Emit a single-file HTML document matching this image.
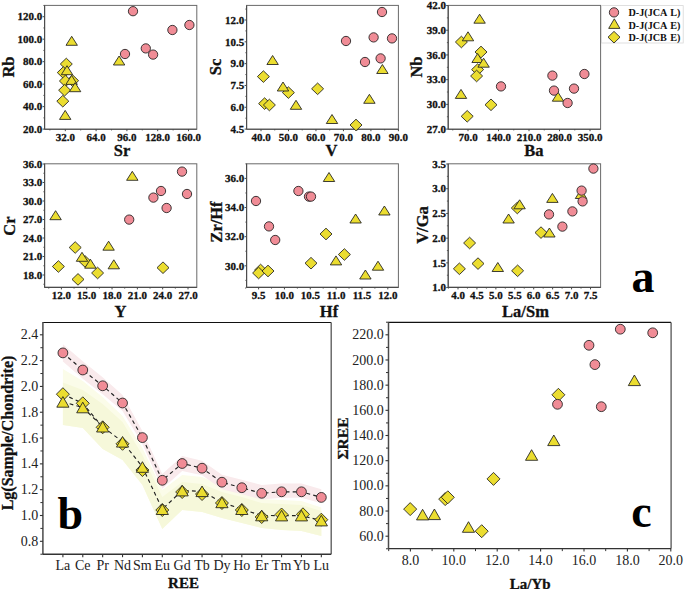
<!DOCTYPE html>
<html><head><meta charset="utf-8"><title>Geochemistry plots</title>
<style>
html,body{margin:0;padding:0;background:#fff;}
body{width:685px;height:589px;overflow:hidden;font-family:"Liberation Serif",serif;}
svg{display:block;}
</style></head>
<body>
<svg width="685" height="589" viewBox="0 0 685 589">
<rect width="685" height="589" fill="#fff"/>
<rect x="44.6" y="5.4" width="152.2" height="123.8" fill="none" stroke="#6a6a6a" stroke-width="1"/>
<line x1="44.6" y1="5.4" x2="44.6" y2="129.2" stroke="#4a4a4a" stroke-width="1.1"/>
<line x1="44.6" y1="129.2" x2="196.8" y2="129.2" stroke="#4a4a4a" stroke-width="1.1"/>
<line x1="42.6" y1="129.1" x2="44.6" y2="129.1" stroke="#4a4a4a" stroke-width="1"/>
<text x="42.3" y="132.8" text-anchor="end" font-size="11" font-family="Liberation Serif" font-weight="bold" stroke="#111" stroke-width="0.3" fill="#111">20.0</text>
<line x1="42.6" y1="106.62" x2="44.6" y2="106.62" stroke="#4a4a4a" stroke-width="1"/>
<text x="42.3" y="110.32" text-anchor="end" font-size="11" font-family="Liberation Serif" font-weight="bold" stroke="#111" stroke-width="0.3" fill="#111">40.0</text>
<line x1="42.6" y1="84.14" x2="44.6" y2="84.14" stroke="#4a4a4a" stroke-width="1"/>
<text x="42.3" y="87.84" text-anchor="end" font-size="11" font-family="Liberation Serif" font-weight="bold" stroke="#111" stroke-width="0.3" fill="#111">60.0</text>
<line x1="42.6" y1="61.66" x2="44.6" y2="61.66" stroke="#4a4a4a" stroke-width="1"/>
<text x="42.3" y="65.36" text-anchor="end" font-size="11" font-family="Liberation Serif" font-weight="bold" stroke="#111" stroke-width="0.3" fill="#111">80.0</text>
<line x1="42.6" y1="39.18" x2="44.6" y2="39.18" stroke="#4a4a4a" stroke-width="1"/>
<text x="42.3" y="42.88" text-anchor="end" font-size="11" font-family="Liberation Serif" font-weight="bold" stroke="#111" stroke-width="0.3" fill="#111">100.0</text>
<line x1="42.6" y1="16.7" x2="44.6" y2="16.7" stroke="#4a4a4a" stroke-width="1"/>
<text x="42.3" y="20.4" text-anchor="end" font-size="11" font-family="Liberation Serif" font-weight="bold" stroke="#111" stroke-width="0.3" fill="#111">120.0</text>
<line x1="43.3" y1="117.86" x2="44.6" y2="117.86" stroke="#4a4a4a" stroke-width="0.8"/>
<line x1="43.3" y1="95.38" x2="44.6" y2="95.38" stroke="#4a4a4a" stroke-width="0.8"/>
<line x1="43.3" y1="72.9" x2="44.6" y2="72.9" stroke="#4a4a4a" stroke-width="0.8"/>
<line x1="43.3" y1="50.42" x2="44.6" y2="50.42" stroke="#4a4a4a" stroke-width="0.8"/>
<line x1="43.3" y1="27.94" x2="44.6" y2="27.94" stroke="#4a4a4a" stroke-width="0.8"/>
<line x1="43.3" y1="5.46" x2="44.6" y2="5.46" stroke="#4a4a4a" stroke-width="0.8"/>
<line x1="65.3" y1="129.2" x2="65.3" y2="131.2" stroke="#4a4a4a" stroke-width="1"/>
<text x="65.3" y="140.8" text-anchor="middle" font-size="11" font-family="Liberation Serif" font-weight="bold" stroke="#111" stroke-width="0.3" fill="#111">32.0</text>
<line x1="96.1" y1="129.2" x2="96.1" y2="131.2" stroke="#4a4a4a" stroke-width="1"/>
<text x="96.1" y="140.8" text-anchor="middle" font-size="11" font-family="Liberation Serif" font-weight="bold" stroke="#111" stroke-width="0.3" fill="#111">64.0</text>
<line x1="126.9" y1="129.2" x2="126.9" y2="131.2" stroke="#4a4a4a" stroke-width="1"/>
<text x="126.9" y="140.8" text-anchor="middle" font-size="11" font-family="Liberation Serif" font-weight="bold" stroke="#111" stroke-width="0.3" fill="#111">96.0</text>
<line x1="157.7" y1="129.2" x2="157.7" y2="131.2" stroke="#4a4a4a" stroke-width="1"/>
<text x="157.7" y="140.8" text-anchor="middle" font-size="11" font-family="Liberation Serif" font-weight="bold" stroke="#111" stroke-width="0.3" fill="#111">128.0</text>
<line x1="188.5" y1="129.2" x2="188.5" y2="131.2" stroke="#4a4a4a" stroke-width="1"/>
<text x="188.5" y="140.8" text-anchor="middle" font-size="11" font-family="Liberation Serif" font-weight="bold" stroke="#111" stroke-width="0.3" fill="#111">160.0</text>
<line x1="49.9" y1="129.2" x2="49.9" y2="130.5" stroke="#4a4a4a" stroke-width="0.8"/>
<line x1="80.7" y1="129.2" x2="80.7" y2="130.5" stroke="#4a4a4a" stroke-width="0.8"/>
<line x1="111.5" y1="129.2" x2="111.5" y2="130.5" stroke="#4a4a4a" stroke-width="0.8"/>
<line x1="142.3" y1="129.2" x2="142.3" y2="130.5" stroke="#4a4a4a" stroke-width="0.8"/>
<line x1="173.1" y1="129.2" x2="173.1" y2="130.5" stroke="#4a4a4a" stroke-width="0.8"/>
<text x="8.5" y="67" text-anchor="middle" font-size="16.5" font-family="Liberation Serif" font-weight="bold" stroke="#111" stroke-width="0.3" fill="#111" transform="rotate(-90 8.5 67)" dominant-baseline="central">Rb</text>
<text x="122" y="156" text-anchor="middle" font-size="16.5" font-family="Liberation Serif" font-weight="bold" stroke="#111" stroke-width="0.3" fill="#111">Sr</text>
<polygon points="72.6,74.9 78.6,80.7 72.6,86.5 66.6,80.7" fill="#ebdd30" stroke="#1e1e1e" stroke-width="0.85"/>
<polygon points="66.3,58.2 72.3,64 66.3,69.8 60.3,64" fill="#ebdd30" stroke="#1e1e1e" stroke-width="0.85"/>
<polygon points="63.3,66.8 69.3,72.6 63.3,78.4 57.3,72.6" fill="#ebdd30" stroke="#1e1e1e" stroke-width="0.85"/>
<polygon points="65.4,75.2 71.4,81 65.4,86.8 59.4,81" fill="#ebdd30" stroke="#1e1e1e" stroke-width="0.85"/>
<polygon points="64.6,84.4 70.6,90.2 64.6,96 58.6,90.2" fill="#ebdd30" stroke="#1e1e1e" stroke-width="0.85"/>
<polygon points="62.8,95.4 68.8,101.2 62.8,107 56.8,101.2" fill="#ebdd30" stroke="#1e1e1e" stroke-width="0.85"/>
<polygon points="71.7,36.3 66,45.3 77.4,45.3" fill="#ebdd30" stroke="#1e1e1e" stroke-width="0.85" stroke-linejoin="miter"/>
<polygon points="119.1,56 113.4,65 124.8,65" fill="#ebdd30" stroke="#1e1e1e" stroke-width="0.85" stroke-linejoin="miter"/>
<polygon points="67,65.7 61.3,74.7 72.7,74.7" fill="#ebdd30" stroke="#1e1e1e" stroke-width="0.85" stroke-linejoin="miter"/>
<polygon points="71.6,75.4 65.9,84.4 77.3,84.4" fill="#ebdd30" stroke="#1e1e1e" stroke-width="0.85" stroke-linejoin="miter"/>
<polygon points="75.1,82.7 69.4,91.7 80.8,91.7" fill="#ebdd30" stroke="#1e1e1e" stroke-width="0.85" stroke-linejoin="miter"/>
<polygon points="65.2,110.4 59.5,119.4 70.9,119.4" fill="#ebdd30" stroke="#1e1e1e" stroke-width="0.85" stroke-linejoin="miter"/>
<circle cx="133" cy="11.2" r="4.65" fill="#f08c96" stroke="#1e1e1e" stroke-width="0.85"/>
<circle cx="189.4" cy="25" r="4.65" fill="#f08c96" stroke="#1e1e1e" stroke-width="0.85"/>
<circle cx="172.4" cy="30" r="4.65" fill="#f08c96" stroke="#1e1e1e" stroke-width="0.85"/>
<circle cx="145.8" cy="48.4" r="4.65" fill="#f08c96" stroke="#1e1e1e" stroke-width="0.85"/>
<circle cx="153.1" cy="54.6" r="4.65" fill="#f08c96" stroke="#1e1e1e" stroke-width="0.85"/>
<circle cx="125" cy="54" r="4.65" fill="#f08c96" stroke="#1e1e1e" stroke-width="0.85"/>
<rect x="246.6" y="5.4" width="151.8" height="123.8" fill="none" stroke="#6a6a6a" stroke-width="1"/>
<line x1="246.6" y1="5.4" x2="246.6" y2="129.2" stroke="#4a4a4a" stroke-width="1.1"/>
<line x1="246.6" y1="129.2" x2="398.4" y2="129.2" stroke="#4a4a4a" stroke-width="1.1"/>
<line x1="244.6" y1="129.1" x2="246.6" y2="129.1" stroke="#4a4a4a" stroke-width="1"/>
<text x="244.3" y="132.8" text-anchor="end" font-size="11" font-family="Liberation Serif" font-weight="bold" stroke="#111" stroke-width="0.3" fill="#111">4.5</text>
<line x1="244.6" y1="107.28" x2="246.6" y2="107.28" stroke="#4a4a4a" stroke-width="1"/>
<text x="244.3" y="110.98" text-anchor="end" font-size="11" font-family="Liberation Serif" font-weight="bold" stroke="#111" stroke-width="0.3" fill="#111">6.0</text>
<line x1="244.6" y1="85.46" x2="246.6" y2="85.46" stroke="#4a4a4a" stroke-width="1"/>
<text x="244.3" y="89.16" text-anchor="end" font-size="11" font-family="Liberation Serif" font-weight="bold" stroke="#111" stroke-width="0.3" fill="#111">7.5</text>
<line x1="244.6" y1="63.64" x2="246.6" y2="63.64" stroke="#4a4a4a" stroke-width="1"/>
<text x="244.3" y="67.34" text-anchor="end" font-size="11" font-family="Liberation Serif" font-weight="bold" stroke="#111" stroke-width="0.3" fill="#111">9.0</text>
<line x1="244.6" y1="41.82" x2="246.6" y2="41.82" stroke="#4a4a4a" stroke-width="1"/>
<text x="244.3" y="45.52" text-anchor="end" font-size="11" font-family="Liberation Serif" font-weight="bold" stroke="#111" stroke-width="0.3" fill="#111">10.5</text>
<line x1="244.6" y1="20" x2="246.6" y2="20" stroke="#4a4a4a" stroke-width="1"/>
<text x="244.3" y="23.7" text-anchor="end" font-size="11" font-family="Liberation Serif" font-weight="bold" stroke="#111" stroke-width="0.3" fill="#111">12.0</text>
<line x1="245.3" y1="118.19" x2="246.6" y2="118.19" stroke="#4a4a4a" stroke-width="0.8"/>
<line x1="245.3" y1="96.37" x2="246.6" y2="96.37" stroke="#4a4a4a" stroke-width="0.8"/>
<line x1="245.3" y1="74.55" x2="246.6" y2="74.55" stroke="#4a4a4a" stroke-width="0.8"/>
<line x1="245.3" y1="52.73" x2="246.6" y2="52.73" stroke="#4a4a4a" stroke-width="0.8"/>
<line x1="245.3" y1="30.91" x2="246.6" y2="30.91" stroke="#4a4a4a" stroke-width="0.8"/>
<line x1="245.3" y1="9.09" x2="246.6" y2="9.09" stroke="#4a4a4a" stroke-width="0.8"/>
<line x1="261" y1="129.2" x2="261" y2="131.2" stroke="#4a4a4a" stroke-width="1"/>
<text x="261" y="140.8" text-anchor="middle" font-size="11" font-family="Liberation Serif" font-weight="bold" stroke="#111" stroke-width="0.3" fill="#111">40.0</text>
<line x1="288.48" y1="129.2" x2="288.48" y2="131.2" stroke="#4a4a4a" stroke-width="1"/>
<text x="288.48" y="140.8" text-anchor="middle" font-size="11" font-family="Liberation Serif" font-weight="bold" stroke="#111" stroke-width="0.3" fill="#111">50.0</text>
<line x1="315.96" y1="129.2" x2="315.96" y2="131.2" stroke="#4a4a4a" stroke-width="1"/>
<text x="315.96" y="140.8" text-anchor="middle" font-size="11" font-family="Liberation Serif" font-weight="bold" stroke="#111" stroke-width="0.3" fill="#111">60.0</text>
<line x1="343.44" y1="129.2" x2="343.44" y2="131.2" stroke="#4a4a4a" stroke-width="1"/>
<text x="343.44" y="140.8" text-anchor="middle" font-size="11" font-family="Liberation Serif" font-weight="bold" stroke="#111" stroke-width="0.3" fill="#111">70.0</text>
<line x1="370.92" y1="129.2" x2="370.92" y2="131.2" stroke="#4a4a4a" stroke-width="1"/>
<text x="370.92" y="140.8" text-anchor="middle" font-size="11" font-family="Liberation Serif" font-weight="bold" stroke="#111" stroke-width="0.3" fill="#111">80.0</text>
<line x1="398.4" y1="129.2" x2="398.4" y2="131.2" stroke="#4a4a4a" stroke-width="1"/>
<text x="398.4" y="140.8" text-anchor="middle" font-size="11" font-family="Liberation Serif" font-weight="bold" stroke="#111" stroke-width="0.3" fill="#111">90.0</text>
<line x1="274.74" y1="129.2" x2="274.74" y2="130.5" stroke="#4a4a4a" stroke-width="0.8"/>
<line x1="302.22" y1="129.2" x2="302.22" y2="130.5" stroke="#4a4a4a" stroke-width="0.8"/>
<line x1="329.7" y1="129.2" x2="329.7" y2="130.5" stroke="#4a4a4a" stroke-width="0.8"/>
<line x1="357.18" y1="129.2" x2="357.18" y2="130.5" stroke="#4a4a4a" stroke-width="0.8"/>
<line x1="384.66" y1="129.2" x2="384.66" y2="130.5" stroke="#4a4a4a" stroke-width="0.8"/>
<text x="215.5" y="67" text-anchor="middle" font-size="16.5" font-family="Liberation Serif" font-weight="bold" stroke="#111" stroke-width="0.3" fill="#111" transform="rotate(-90 215.5 67)" dominant-baseline="central">Sc</text>
<text x="331.5" y="156" text-anchor="middle" font-size="16.5" font-family="Liberation Serif" font-weight="bold" stroke="#111" stroke-width="0.3" fill="#111">V</text>
<polygon points="263.4,70.8 269.4,76.6 263.4,82.4 257.4,76.6" fill="#ebdd30" stroke="#1e1e1e" stroke-width="0.85"/>
<polygon points="288.4,86.8 294.4,92.6 288.4,98.4 282.4,92.6" fill="#ebdd30" stroke="#1e1e1e" stroke-width="0.85"/>
<polygon points="317.6,83 323.6,88.8 317.6,94.6 311.6,88.8" fill="#ebdd30" stroke="#1e1e1e" stroke-width="0.85"/>
<polygon points="264.6,97.8 270.6,103.6 264.6,109.4 258.6,103.6" fill="#ebdd30" stroke="#1e1e1e" stroke-width="0.85"/>
<polygon points="269.4,99.2 275.4,105 269.4,110.8 263.4,105" fill="#ebdd30" stroke="#1e1e1e" stroke-width="0.85"/>
<polygon points="356,119.2 362,125 356,130.8 350,125" fill="#ebdd30" stroke="#1e1e1e" stroke-width="0.85"/>
<polygon points="272.6,55.5 266.9,64.5 278.3,64.5" fill="#ebdd30" stroke="#1e1e1e" stroke-width="0.85" stroke-linejoin="miter"/>
<polygon points="283,82 277.3,91 288.7,91" fill="#ebdd30" stroke="#1e1e1e" stroke-width="0.85" stroke-linejoin="miter"/>
<polygon points="296,100.3 290.3,109.3 301.7,109.3" fill="#ebdd30" stroke="#1e1e1e" stroke-width="0.85" stroke-linejoin="miter"/>
<polygon points="332,114.5 326.3,123.5 337.7,123.5" fill="#ebdd30" stroke="#1e1e1e" stroke-width="0.85" stroke-linejoin="miter"/>
<polygon points="382.4,64.5 376.7,73.5 388.1,73.5" fill="#ebdd30" stroke="#1e1e1e" stroke-width="0.85" stroke-linejoin="miter"/>
<polygon points="369.4,94.3 363.7,103.3 375.1,103.3" fill="#ebdd30" stroke="#1e1e1e" stroke-width="0.85" stroke-linejoin="miter"/>
<circle cx="382" cy="12" r="4.65" fill="#f08c96" stroke="#1e1e1e" stroke-width="0.85"/>
<circle cx="346" cy="41" r="4.65" fill="#f08c96" stroke="#1e1e1e" stroke-width="0.85"/>
<circle cx="373.6" cy="37.4" r="4.65" fill="#f08c96" stroke="#1e1e1e" stroke-width="0.85"/>
<circle cx="392" cy="38.4" r="4.65" fill="#f08c96" stroke="#1e1e1e" stroke-width="0.85"/>
<circle cx="365" cy="62" r="4.65" fill="#f08c96" stroke="#1e1e1e" stroke-width="0.85"/>
<circle cx="380.6" cy="58.4" r="4.65" fill="#f08c96" stroke="#1e1e1e" stroke-width="0.85"/>
<rect x="448.2" y="5.4" width="152.4" height="123.8" fill="none" stroke="#6a6a6a" stroke-width="1"/>
<line x1="448.2" y1="5.4" x2="448.2" y2="129.2" stroke="#4a4a4a" stroke-width="1.1"/>
<line x1="448.2" y1="129.2" x2="600.6" y2="129.2" stroke="#4a4a4a" stroke-width="1.1"/>
<line x1="446.2" y1="129.1" x2="448.2" y2="129.1" stroke="#4a4a4a" stroke-width="1"/>
<text x="445.9" y="132.8" text-anchor="end" font-size="11" font-family="Liberation Serif" font-weight="bold" stroke="#111" stroke-width="0.3" fill="#111">27.0</text>
<line x1="446.2" y1="104.38" x2="448.2" y2="104.38" stroke="#4a4a4a" stroke-width="1"/>
<text x="445.9" y="108.08" text-anchor="end" font-size="11" font-family="Liberation Serif" font-weight="bold" stroke="#111" stroke-width="0.3" fill="#111">30.0</text>
<line x1="446.2" y1="79.66" x2="448.2" y2="79.66" stroke="#4a4a4a" stroke-width="1"/>
<text x="445.9" y="83.36" text-anchor="end" font-size="11" font-family="Liberation Serif" font-weight="bold" stroke="#111" stroke-width="0.3" fill="#111">33.0</text>
<line x1="446.2" y1="54.94" x2="448.2" y2="54.94" stroke="#4a4a4a" stroke-width="1"/>
<text x="445.9" y="58.64" text-anchor="end" font-size="11" font-family="Liberation Serif" font-weight="bold" stroke="#111" stroke-width="0.3" fill="#111">36.0</text>
<line x1="446.2" y1="30.22" x2="448.2" y2="30.22" stroke="#4a4a4a" stroke-width="1"/>
<text x="445.9" y="33.92" text-anchor="end" font-size="11" font-family="Liberation Serif" font-weight="bold" stroke="#111" stroke-width="0.3" fill="#111">39.0</text>
<line x1="446.2" y1="5.5" x2="448.2" y2="5.5" stroke="#4a4a4a" stroke-width="1"/>
<text x="445.9" y="9.2" text-anchor="end" font-size="11" font-family="Liberation Serif" font-weight="bold" stroke="#111" stroke-width="0.3" fill="#111">42.0</text>
<line x1="446.9" y1="116.74" x2="448.2" y2="116.74" stroke="#4a4a4a" stroke-width="0.8"/>
<line x1="446.9" y1="92.02" x2="448.2" y2="92.02" stroke="#4a4a4a" stroke-width="0.8"/>
<line x1="446.9" y1="67.3" x2="448.2" y2="67.3" stroke="#4a4a4a" stroke-width="0.8"/>
<line x1="446.9" y1="42.58" x2="448.2" y2="42.58" stroke="#4a4a4a" stroke-width="0.8"/>
<line x1="446.9" y1="17.86" x2="448.2" y2="17.86" stroke="#4a4a4a" stroke-width="0.8"/>
<line x1="468" y1="129.2" x2="468" y2="131.2" stroke="#4a4a4a" stroke-width="1"/>
<text x="468" y="140.8" text-anchor="middle" font-size="11" font-family="Liberation Serif" font-weight="bold" stroke="#111" stroke-width="0.3" fill="#111">70.0</text>
<line x1="498.5" y1="129.2" x2="498.5" y2="131.2" stroke="#4a4a4a" stroke-width="1"/>
<text x="498.5" y="140.8" text-anchor="middle" font-size="11" font-family="Liberation Serif" font-weight="bold" stroke="#111" stroke-width="0.3" fill="#111">140.0</text>
<line x1="529" y1="129.2" x2="529" y2="131.2" stroke="#4a4a4a" stroke-width="1"/>
<text x="529" y="140.8" text-anchor="middle" font-size="11" font-family="Liberation Serif" font-weight="bold" stroke="#111" stroke-width="0.3" fill="#111">210.0</text>
<line x1="559.5" y1="129.2" x2="559.5" y2="131.2" stroke="#4a4a4a" stroke-width="1"/>
<text x="559.5" y="140.8" text-anchor="middle" font-size="11" font-family="Liberation Serif" font-weight="bold" stroke="#111" stroke-width="0.3" fill="#111">280.0</text>
<line x1="590" y1="129.2" x2="590" y2="131.2" stroke="#4a4a4a" stroke-width="1"/>
<text x="590" y="140.8" text-anchor="middle" font-size="11" font-family="Liberation Serif" font-weight="bold" stroke="#111" stroke-width="0.3" fill="#111">350.0</text>
<line x1="452.75" y1="129.2" x2="452.75" y2="130.5" stroke="#4a4a4a" stroke-width="0.8"/>
<line x1="483.25" y1="129.2" x2="483.25" y2="130.5" stroke="#4a4a4a" stroke-width="0.8"/>
<line x1="513.75" y1="129.2" x2="513.75" y2="130.5" stroke="#4a4a4a" stroke-width="0.8"/>
<line x1="544.25" y1="129.2" x2="544.25" y2="130.5" stroke="#4a4a4a" stroke-width="0.8"/>
<line x1="574.75" y1="129.2" x2="574.75" y2="130.5" stroke="#4a4a4a" stroke-width="0.8"/>
<text x="416" y="67" text-anchor="middle" font-size="16.5" font-family="Liberation Serif" font-weight="bold" stroke="#111" stroke-width="0.3" fill="#111" transform="rotate(-90 416 67)" dominant-baseline="central">Nb</text>
<text x="534" y="156" text-anchor="middle" font-size="16.5" font-family="Liberation Serif" font-weight="bold" stroke="#111" stroke-width="0.3" fill="#111">Ba</text>
<polygon points="461.4,36.2 467.4,42 461.4,47.8 455.4,42" fill="#ebdd30" stroke="#1e1e1e" stroke-width="0.85"/>
<polygon points="481,46.2 487,52 481,57.8 475,52" fill="#ebdd30" stroke="#1e1e1e" stroke-width="0.85"/>
<polygon points="477.6,63.8 483.6,69.6 477.6,75.4 471.6,69.6" fill="#ebdd30" stroke="#1e1e1e" stroke-width="0.85"/>
<polygon points="476.6,70.2 482.6,76 476.6,81.8 470.6,76" fill="#ebdd30" stroke="#1e1e1e" stroke-width="0.85"/>
<polygon points="491,99 497,104.8 491,110.6 485,104.8" fill="#ebdd30" stroke="#1e1e1e" stroke-width="0.85"/>
<polygon points="467.2,110.5 473.2,116.3 467.2,122.1 461.2,116.3" fill="#ebdd30" stroke="#1e1e1e" stroke-width="0.85"/>
<polygon points="479.6,14.2 473.9,23.2 485.3,23.2" fill="#ebdd30" stroke="#1e1e1e" stroke-width="0.85" stroke-linejoin="miter"/>
<polygon points="468,31.8 462.3,40.8 473.7,40.8" fill="#ebdd30" stroke="#1e1e1e" stroke-width="0.85" stroke-linejoin="miter"/>
<polygon points="477.6,53.5 471.9,62.5 483.3,62.5" fill="#ebdd30" stroke="#1e1e1e" stroke-width="0.85" stroke-linejoin="miter"/>
<polygon points="483.6,58.2 477.9,67.2 489.3,67.2" fill="#ebdd30" stroke="#1e1e1e" stroke-width="0.85" stroke-linejoin="miter"/>
<polygon points="461,89.4 455.3,98.4 466.7,98.4" fill="#ebdd30" stroke="#1e1e1e" stroke-width="0.85" stroke-linejoin="miter"/>
<polygon points="558,92.2 552.3,101.2 563.7,101.2" fill="#ebdd30" stroke="#1e1e1e" stroke-width="0.85" stroke-linejoin="miter"/>
<circle cx="501" cy="86.4" r="4.65" fill="#f08c96" stroke="#1e1e1e" stroke-width="0.85"/>
<circle cx="552.4" cy="75.6" r="4.65" fill="#f08c96" stroke="#1e1e1e" stroke-width="0.85"/>
<circle cx="584.4" cy="74" r="4.65" fill="#f08c96" stroke="#1e1e1e" stroke-width="0.85"/>
<circle cx="554" cy="90.6" r="4.65" fill="#f08c96" stroke="#1e1e1e" stroke-width="0.85"/>
<circle cx="574" cy="88.6" r="4.65" fill="#f08c96" stroke="#1e1e1e" stroke-width="0.85"/>
<circle cx="567.6" cy="103" r="4.65" fill="#f08c96" stroke="#1e1e1e" stroke-width="0.85"/>
<rect x="44.6" y="163.8" width="152.2" height="123.6" fill="none" stroke="#6a6a6a" stroke-width="1"/>
<line x1="44.6" y1="163.8" x2="44.6" y2="287.4" stroke="#4a4a4a" stroke-width="1.1"/>
<line x1="44.6" y1="287.4" x2="196.8" y2="287.4" stroke="#4a4a4a" stroke-width="1.1"/>
<line x1="42.6" y1="275" x2="44.6" y2="275" stroke="#4a4a4a" stroke-width="1"/>
<text x="42.3" y="278.7" text-anchor="end" font-size="11" font-family="Liberation Serif" font-weight="bold" stroke="#111" stroke-width="0.3" fill="#111">18.0</text>
<line x1="42.6" y1="256.5" x2="44.6" y2="256.5" stroke="#4a4a4a" stroke-width="1"/>
<text x="42.3" y="260.2" text-anchor="end" font-size="11" font-family="Liberation Serif" font-weight="bold" stroke="#111" stroke-width="0.3" fill="#111">21.0</text>
<line x1="42.6" y1="238" x2="44.6" y2="238" stroke="#4a4a4a" stroke-width="1"/>
<text x="42.3" y="241.7" text-anchor="end" font-size="11" font-family="Liberation Serif" font-weight="bold" stroke="#111" stroke-width="0.3" fill="#111">24.0</text>
<line x1="42.6" y1="219.5" x2="44.6" y2="219.5" stroke="#4a4a4a" stroke-width="1"/>
<text x="42.3" y="223.2" text-anchor="end" font-size="11" font-family="Liberation Serif" font-weight="bold" stroke="#111" stroke-width="0.3" fill="#111">27.0</text>
<line x1="42.6" y1="201" x2="44.6" y2="201" stroke="#4a4a4a" stroke-width="1"/>
<text x="42.3" y="204.7" text-anchor="end" font-size="11" font-family="Liberation Serif" font-weight="bold" stroke="#111" stroke-width="0.3" fill="#111">30.0</text>
<line x1="42.6" y1="182.5" x2="44.6" y2="182.5" stroke="#4a4a4a" stroke-width="1"/>
<text x="42.3" y="186.2" text-anchor="end" font-size="11" font-family="Liberation Serif" font-weight="bold" stroke="#111" stroke-width="0.3" fill="#111">33.0</text>
<line x1="42.6" y1="164" x2="44.6" y2="164" stroke="#4a4a4a" stroke-width="1"/>
<text x="42.3" y="167.7" text-anchor="end" font-size="11" font-family="Liberation Serif" font-weight="bold" stroke="#111" stroke-width="0.3" fill="#111">36.0</text>
<line x1="43.3" y1="284.25" x2="44.6" y2="284.25" stroke="#4a4a4a" stroke-width="0.8"/>
<line x1="43.3" y1="265.75" x2="44.6" y2="265.75" stroke="#4a4a4a" stroke-width="0.8"/>
<line x1="43.3" y1="247.25" x2="44.6" y2="247.25" stroke="#4a4a4a" stroke-width="0.8"/>
<line x1="43.3" y1="228.75" x2="44.6" y2="228.75" stroke="#4a4a4a" stroke-width="0.8"/>
<line x1="43.3" y1="210.25" x2="44.6" y2="210.25" stroke="#4a4a4a" stroke-width="0.8"/>
<line x1="43.3" y1="191.75" x2="44.6" y2="191.75" stroke="#4a4a4a" stroke-width="0.8"/>
<line x1="43.3" y1="173.25" x2="44.6" y2="173.25" stroke="#4a4a4a" stroke-width="0.8"/>
<line x1="61.4" y1="287.4" x2="61.4" y2="289.4" stroke="#4a4a4a" stroke-width="1"/>
<text x="61.4" y="299" text-anchor="middle" font-size="11" font-family="Liberation Serif" font-weight="bold" stroke="#111" stroke-width="0.3" fill="#111">12.0</text>
<line x1="86.72" y1="287.4" x2="86.72" y2="289.4" stroke="#4a4a4a" stroke-width="1"/>
<text x="86.72" y="299" text-anchor="middle" font-size="11" font-family="Liberation Serif" font-weight="bold" stroke="#111" stroke-width="0.3" fill="#111">15.0</text>
<line x1="112.04" y1="287.4" x2="112.04" y2="289.4" stroke="#4a4a4a" stroke-width="1"/>
<text x="112.04" y="299" text-anchor="middle" font-size="11" font-family="Liberation Serif" font-weight="bold" stroke="#111" stroke-width="0.3" fill="#111">18.0</text>
<line x1="137.36" y1="287.4" x2="137.36" y2="289.4" stroke="#4a4a4a" stroke-width="1"/>
<text x="137.36" y="299" text-anchor="middle" font-size="11" font-family="Liberation Serif" font-weight="bold" stroke="#111" stroke-width="0.3" fill="#111">21.0</text>
<line x1="162.68" y1="287.4" x2="162.68" y2="289.4" stroke="#4a4a4a" stroke-width="1"/>
<text x="162.68" y="299" text-anchor="middle" font-size="11" font-family="Liberation Serif" font-weight="bold" stroke="#111" stroke-width="0.3" fill="#111">24.0</text>
<line x1="188" y1="287.4" x2="188" y2="289.4" stroke="#4a4a4a" stroke-width="1"/>
<text x="188" y="299" text-anchor="middle" font-size="11" font-family="Liberation Serif" font-weight="bold" stroke="#111" stroke-width="0.3" fill="#111">27.0</text>
<line x1="48.74" y1="287.4" x2="48.74" y2="288.7" stroke="#4a4a4a" stroke-width="0.8"/>
<line x1="74.06" y1="287.4" x2="74.06" y2="288.7" stroke="#4a4a4a" stroke-width="0.8"/>
<line x1="99.38" y1="287.4" x2="99.38" y2="288.7" stroke="#4a4a4a" stroke-width="0.8"/>
<line x1="124.7" y1="287.4" x2="124.7" y2="288.7" stroke="#4a4a4a" stroke-width="0.8"/>
<line x1="150.02" y1="287.4" x2="150.02" y2="288.7" stroke="#4a4a4a" stroke-width="0.8"/>
<line x1="175.34" y1="287.4" x2="175.34" y2="288.7" stroke="#4a4a4a" stroke-width="0.8"/>
<text x="9" y="226" text-anchor="middle" font-size="16.5" font-family="Liberation Serif" font-weight="bold" stroke="#111" stroke-width="0.3" fill="#111" transform="rotate(-90 9 226)" dominant-baseline="central">Cr</text>
<text x="120.5" y="317" text-anchor="middle" font-size="16.5" font-family="Liberation Serif" font-weight="bold" stroke="#111" stroke-width="0.3" fill="#111">Y</text>
<polygon points="75.2,241.7 81.2,247.5 75.2,253.3 69.2,247.5" fill="#ebdd30" stroke="#1e1e1e" stroke-width="0.85"/>
<polygon points="85,255.6 91,261.4 85,267.2 79,261.4" fill="#ebdd30" stroke="#1e1e1e" stroke-width="0.85"/>
<polygon points="58.4,260.7 64.4,266.5 58.4,272.3 52.4,266.5" fill="#ebdd30" stroke="#1e1e1e" stroke-width="0.85"/>
<polygon points="97.6,267.2 103.6,273 97.6,278.8 91.6,273" fill="#ebdd30" stroke="#1e1e1e" stroke-width="0.85"/>
<polygon points="78,273.6 84,279.4 78,285.2 72,279.4" fill="#ebdd30" stroke="#1e1e1e" stroke-width="0.85"/>
<polygon points="163,261.9 169,267.7 163,273.5 157,267.7" fill="#ebdd30" stroke="#1e1e1e" stroke-width="0.85"/>
<polygon points="55.6,210.7 49.9,219.7 61.3,219.7" fill="#ebdd30" stroke="#1e1e1e" stroke-width="0.85" stroke-linejoin="miter"/>
<polygon points="132.3,171.3 126.6,180.3 138,180.3" fill="#ebdd30" stroke="#1e1e1e" stroke-width="0.85" stroke-linejoin="miter"/>
<polygon points="108.6,241.2 102.9,250.2 114.3,250.2" fill="#ebdd30" stroke="#1e1e1e" stroke-width="0.85" stroke-linejoin="miter"/>
<polygon points="82,252.3 76.3,261.3 87.7,261.3" fill="#ebdd30" stroke="#1e1e1e" stroke-width="0.85" stroke-linejoin="miter"/>
<polygon points="90.4,259.2 84.7,268.2 96.1,268.2" fill="#ebdd30" stroke="#1e1e1e" stroke-width="0.85" stroke-linejoin="miter"/>
<polygon points="113.8,259.8 108.1,268.8 119.5,268.8" fill="#ebdd30" stroke="#1e1e1e" stroke-width="0.85" stroke-linejoin="miter"/>
<circle cx="182" cy="171.6" r="4.65" fill="#f08c96" stroke="#1e1e1e" stroke-width="0.85"/>
<circle cx="161" cy="191" r="4.65" fill="#f08c96" stroke="#1e1e1e" stroke-width="0.85"/>
<circle cx="153.4" cy="197.6" r="4.65" fill="#f08c96" stroke="#1e1e1e" stroke-width="0.85"/>
<circle cx="187" cy="194" r="4.65" fill="#f08c96" stroke="#1e1e1e" stroke-width="0.85"/>
<circle cx="166.6" cy="208" r="4.65" fill="#f08c96" stroke="#1e1e1e" stroke-width="0.85"/>
<circle cx="129.2" cy="219.6" r="4.65" fill="#f08c96" stroke="#1e1e1e" stroke-width="0.85"/>
<rect x="246.6" y="163.8" width="151.8" height="123.6" fill="none" stroke="#6a6a6a" stroke-width="1"/>
<line x1="246.6" y1="163.8" x2="246.6" y2="287.4" stroke="#4a4a4a" stroke-width="1.1"/>
<line x1="246.6" y1="287.4" x2="398.4" y2="287.4" stroke="#4a4a4a" stroke-width="1.1"/>
<line x1="244.6" y1="265.8" x2="246.6" y2="265.8" stroke="#4a4a4a" stroke-width="1"/>
<text x="244.3" y="269.5" text-anchor="end" font-size="11" font-family="Liberation Serif" font-weight="bold" stroke="#111" stroke-width="0.3" fill="#111">30.0</text>
<line x1="244.6" y1="236.67" x2="246.6" y2="236.67" stroke="#4a4a4a" stroke-width="1"/>
<text x="244.3" y="240.37" text-anchor="end" font-size="11" font-family="Liberation Serif" font-weight="bold" stroke="#111" stroke-width="0.3" fill="#111">32.0</text>
<line x1="244.6" y1="207.53" x2="246.6" y2="207.53" stroke="#4a4a4a" stroke-width="1"/>
<text x="244.3" y="211.23" text-anchor="end" font-size="11" font-family="Liberation Serif" font-weight="bold" stroke="#111" stroke-width="0.3" fill="#111">34.0</text>
<line x1="244.6" y1="178.4" x2="246.6" y2="178.4" stroke="#4a4a4a" stroke-width="1"/>
<text x="244.3" y="182.1" text-anchor="end" font-size="11" font-family="Liberation Serif" font-weight="bold" stroke="#111" stroke-width="0.3" fill="#111">36.0</text>
<line x1="245.3" y1="280.37" x2="246.6" y2="280.37" stroke="#4a4a4a" stroke-width="0.8"/>
<line x1="245.3" y1="251.23" x2="246.6" y2="251.23" stroke="#4a4a4a" stroke-width="0.8"/>
<line x1="245.3" y1="222.1" x2="246.6" y2="222.1" stroke="#4a4a4a" stroke-width="0.8"/>
<line x1="245.3" y1="192.97" x2="246.6" y2="192.97" stroke="#4a4a4a" stroke-width="0.8"/>
<line x1="245.3" y1="163.83" x2="246.6" y2="163.83" stroke="#4a4a4a" stroke-width="0.8"/>
<line x1="258.6" y1="287.4" x2="258.6" y2="289.4" stroke="#4a4a4a" stroke-width="1"/>
<text x="258.6" y="299" text-anchor="middle" font-size="11" font-family="Liberation Serif" font-weight="bold" stroke="#111" stroke-width="0.3" fill="#111">9.5</text>
<line x1="284.44" y1="287.4" x2="284.44" y2="289.4" stroke="#4a4a4a" stroke-width="1"/>
<text x="284.44" y="299" text-anchor="middle" font-size="11" font-family="Liberation Serif" font-weight="bold" stroke="#111" stroke-width="0.3" fill="#111">10.0</text>
<line x1="310.28" y1="287.4" x2="310.28" y2="289.4" stroke="#4a4a4a" stroke-width="1"/>
<text x="310.28" y="299" text-anchor="middle" font-size="11" font-family="Liberation Serif" font-weight="bold" stroke="#111" stroke-width="0.3" fill="#111">10.5</text>
<line x1="336.12" y1="287.4" x2="336.12" y2="289.4" stroke="#4a4a4a" stroke-width="1"/>
<text x="336.12" y="299" text-anchor="middle" font-size="11" font-family="Liberation Serif" font-weight="bold" stroke="#111" stroke-width="0.3" fill="#111">11.0</text>
<line x1="361.96" y1="287.4" x2="361.96" y2="289.4" stroke="#4a4a4a" stroke-width="1"/>
<text x="361.96" y="299" text-anchor="middle" font-size="11" font-family="Liberation Serif" font-weight="bold" stroke="#111" stroke-width="0.3" fill="#111">11.5</text>
<line x1="387.8" y1="287.4" x2="387.8" y2="289.4" stroke="#4a4a4a" stroke-width="1"/>
<text x="387.8" y="299" text-anchor="middle" font-size="11" font-family="Liberation Serif" font-weight="bold" stroke="#111" stroke-width="0.3" fill="#111">12.0</text>
<line x1="245.68" y1="287.4" x2="245.68" y2="288.7" stroke="#4a4a4a" stroke-width="0.8"/>
<line x1="271.52" y1="287.4" x2="271.52" y2="288.7" stroke="#4a4a4a" stroke-width="0.8"/>
<line x1="297.36" y1="287.4" x2="297.36" y2="288.7" stroke="#4a4a4a" stroke-width="0.8"/>
<line x1="323.2" y1="287.4" x2="323.2" y2="288.7" stroke="#4a4a4a" stroke-width="0.8"/>
<line x1="349.04" y1="287.4" x2="349.04" y2="288.7" stroke="#4a4a4a" stroke-width="0.8"/>
<line x1="374.88" y1="287.4" x2="374.88" y2="288.7" stroke="#4a4a4a" stroke-width="0.8"/>
<text x="216" y="222" text-anchor="middle" font-size="16.5" font-family="Liberation Serif" font-weight="bold" stroke="#111" stroke-width="0.3" fill="#111" transform="rotate(-90 216 222)" dominant-baseline="central">Zr/Hf</text>
<text x="329" y="317" text-anchor="middle" font-size="16.5" font-family="Liberation Serif" font-weight="bold" stroke="#111" stroke-width="0.3" fill="#111">Hf</text>
<polygon points="326,228.2 332,234 326,239.8 320,234" fill="#ebdd30" stroke="#1e1e1e" stroke-width="0.85"/>
<polygon points="311,257.4 317,263.2 311,269 305,263.2" fill="#ebdd30" stroke="#1e1e1e" stroke-width="0.85"/>
<polygon points="260.6,264.2 266.6,270 260.6,275.8 254.6,270" fill="#ebdd30" stroke="#1e1e1e" stroke-width="0.85"/>
<polygon points="258.6,267.2 264.6,273 258.6,278.8 252.6,273" fill="#ebdd30" stroke="#1e1e1e" stroke-width="0.85"/>
<polygon points="268,265.2 274,271 268,276.8 262,271" fill="#ebdd30" stroke="#1e1e1e" stroke-width="0.85"/>
<polygon points="344.4,248.7 350.4,254.5 344.4,260.3 338.4,254.5" fill="#ebdd30" stroke="#1e1e1e" stroke-width="0.85"/>
<polygon points="329,172.5 323.3,181.5 334.7,181.5" fill="#ebdd30" stroke="#1e1e1e" stroke-width="0.85" stroke-linejoin="miter"/>
<polygon points="384.4,206 378.7,215 390.1,215" fill="#ebdd30" stroke="#1e1e1e" stroke-width="0.85" stroke-linejoin="miter"/>
<polygon points="355.6,214 349.9,223 361.3,223" fill="#ebdd30" stroke="#1e1e1e" stroke-width="0.85" stroke-linejoin="miter"/>
<polygon points="336,255.9 330.3,264.9 341.7,264.9" fill="#ebdd30" stroke="#1e1e1e" stroke-width="0.85" stroke-linejoin="miter"/>
<polygon points="378,261.2 372.3,270.2 383.7,270.2" fill="#ebdd30" stroke="#1e1e1e" stroke-width="0.85" stroke-linejoin="miter"/>
<polygon points="365.4,270 359.7,279 371.1,279" fill="#ebdd30" stroke="#1e1e1e" stroke-width="0.85" stroke-linejoin="miter"/>
<circle cx="256" cy="201" r="4.65" fill="#f08c96" stroke="#1e1e1e" stroke-width="0.85"/>
<circle cx="269" cy="226.4" r="4.65" fill="#f08c96" stroke="#1e1e1e" stroke-width="0.85"/>
<circle cx="275.2" cy="240" r="4.65" fill="#f08c96" stroke="#1e1e1e" stroke-width="0.85"/>
<circle cx="298.4" cy="191" r="4.65" fill="#f08c96" stroke="#1e1e1e" stroke-width="0.85"/>
<circle cx="309" cy="196.6" r="4.65" fill="#f08c96" stroke="#1e1e1e" stroke-width="0.85"/>
<circle cx="311" cy="196.6" r="4.65" fill="#f08c96" stroke="#1e1e1e" stroke-width="0.85"/>
<rect x="448.2" y="163.8" width="152.4" height="123.6" fill="none" stroke="#6a6a6a" stroke-width="1"/>
<line x1="448.2" y1="163.8" x2="448.2" y2="287.4" stroke="#4a4a4a" stroke-width="1.1"/>
<line x1="448.2" y1="287.4" x2="600.6" y2="287.4" stroke="#4a4a4a" stroke-width="1.1"/>
<line x1="446.2" y1="287.6" x2="448.2" y2="287.6" stroke="#4a4a4a" stroke-width="1"/>
<text x="445.9" y="291.3" text-anchor="end" font-size="11" font-family="Liberation Serif" font-weight="bold" stroke="#111" stroke-width="0.3" fill="#111">1.0</text>
<line x1="446.2" y1="262.88" x2="448.2" y2="262.88" stroke="#4a4a4a" stroke-width="1"/>
<text x="445.9" y="266.58" text-anchor="end" font-size="11" font-family="Liberation Serif" font-weight="bold" stroke="#111" stroke-width="0.3" fill="#111">1.5</text>
<line x1="446.2" y1="238.16" x2="448.2" y2="238.16" stroke="#4a4a4a" stroke-width="1"/>
<text x="445.9" y="241.86" text-anchor="end" font-size="11" font-family="Liberation Serif" font-weight="bold" stroke="#111" stroke-width="0.3" fill="#111">2.0</text>
<line x1="446.2" y1="213.44" x2="448.2" y2="213.44" stroke="#4a4a4a" stroke-width="1"/>
<text x="445.9" y="217.14" text-anchor="end" font-size="11" font-family="Liberation Serif" font-weight="bold" stroke="#111" stroke-width="0.3" fill="#111">2.5</text>
<line x1="446.2" y1="188.72" x2="448.2" y2="188.72" stroke="#4a4a4a" stroke-width="1"/>
<text x="445.9" y="192.42" text-anchor="end" font-size="11" font-family="Liberation Serif" font-weight="bold" stroke="#111" stroke-width="0.3" fill="#111">3.0</text>
<line x1="446.2" y1="164" x2="448.2" y2="164" stroke="#4a4a4a" stroke-width="1"/>
<text x="445.9" y="167.7" text-anchor="end" font-size="11" font-family="Liberation Serif" font-weight="bold" stroke="#111" stroke-width="0.3" fill="#111">3.5</text>
<line x1="446.9" y1="275.24" x2="448.2" y2="275.24" stroke="#4a4a4a" stroke-width="0.8"/>
<line x1="446.9" y1="250.52" x2="448.2" y2="250.52" stroke="#4a4a4a" stroke-width="0.8"/>
<line x1="446.9" y1="225.8" x2="448.2" y2="225.8" stroke="#4a4a4a" stroke-width="0.8"/>
<line x1="446.9" y1="201.08" x2="448.2" y2="201.08" stroke="#4a4a4a" stroke-width="0.8"/>
<line x1="446.9" y1="176.36" x2="448.2" y2="176.36" stroke="#4a4a4a" stroke-width="0.8"/>
<line x1="458" y1="287.4" x2="458" y2="289.4" stroke="#4a4a4a" stroke-width="1"/>
<text x="458" y="299" text-anchor="middle" font-size="11" font-family="Liberation Serif" font-weight="bold" stroke="#111" stroke-width="0.3" fill="#111">4.0</text>
<line x1="476.93" y1="287.4" x2="476.93" y2="289.4" stroke="#4a4a4a" stroke-width="1"/>
<text x="476.93" y="299" text-anchor="middle" font-size="11" font-family="Liberation Serif" font-weight="bold" stroke="#111" stroke-width="0.3" fill="#111">4.5</text>
<line x1="495.86" y1="287.4" x2="495.86" y2="289.4" stroke="#4a4a4a" stroke-width="1"/>
<text x="495.86" y="299" text-anchor="middle" font-size="11" font-family="Liberation Serif" font-weight="bold" stroke="#111" stroke-width="0.3" fill="#111">5.0</text>
<line x1="514.79" y1="287.4" x2="514.79" y2="289.4" stroke="#4a4a4a" stroke-width="1"/>
<text x="514.79" y="299" text-anchor="middle" font-size="11" font-family="Liberation Serif" font-weight="bold" stroke="#111" stroke-width="0.3" fill="#111">5.5</text>
<line x1="533.71" y1="287.4" x2="533.71" y2="289.4" stroke="#4a4a4a" stroke-width="1"/>
<text x="533.71" y="299" text-anchor="middle" font-size="11" font-family="Liberation Serif" font-weight="bold" stroke="#111" stroke-width="0.3" fill="#111">6.0</text>
<line x1="552.64" y1="287.4" x2="552.64" y2="289.4" stroke="#4a4a4a" stroke-width="1"/>
<text x="552.64" y="299" text-anchor="middle" font-size="11" font-family="Liberation Serif" font-weight="bold" stroke="#111" stroke-width="0.3" fill="#111">6.5</text>
<line x1="571.57" y1="287.4" x2="571.57" y2="289.4" stroke="#4a4a4a" stroke-width="1"/>
<text x="571.57" y="299" text-anchor="middle" font-size="11" font-family="Liberation Serif" font-weight="bold" stroke="#111" stroke-width="0.3" fill="#111">7.0</text>
<line x1="590.5" y1="287.4" x2="590.5" y2="289.4" stroke="#4a4a4a" stroke-width="1"/>
<text x="590.5" y="299" text-anchor="middle" font-size="11" font-family="Liberation Serif" font-weight="bold" stroke="#111" stroke-width="0.3" fill="#111">7.5</text>
<line x1="448.54" y1="287.4" x2="448.54" y2="288.7" stroke="#4a4a4a" stroke-width="0.8"/>
<line x1="467.46" y1="287.4" x2="467.46" y2="288.7" stroke="#4a4a4a" stroke-width="0.8"/>
<line x1="486.39" y1="287.4" x2="486.39" y2="288.7" stroke="#4a4a4a" stroke-width="0.8"/>
<line x1="505.32" y1="287.4" x2="505.32" y2="288.7" stroke="#4a4a4a" stroke-width="0.8"/>
<line x1="524.25" y1="287.4" x2="524.25" y2="288.7" stroke="#4a4a4a" stroke-width="0.8"/>
<line x1="543.18" y1="287.4" x2="543.18" y2="288.7" stroke="#4a4a4a" stroke-width="0.8"/>
<line x1="562.11" y1="287.4" x2="562.11" y2="288.7" stroke="#4a4a4a" stroke-width="0.8"/>
<line x1="581.04" y1="287.4" x2="581.04" y2="288.7" stroke="#4a4a4a" stroke-width="0.8"/>
<text x="422" y="225" text-anchor="middle" font-size="16.5" font-family="Liberation Serif" font-weight="bold" stroke="#111" stroke-width="0.3" fill="#111" transform="rotate(-90 422 225)" dominant-baseline="central">V/Ga</text>
<text x="525.5" y="317" text-anchor="middle" font-size="16.5" font-family="Liberation Serif" font-weight="bold" stroke="#111" stroke-width="0.3" fill="#111">La/Sm</text>
<polygon points="517.3,202.2 523.3,208 517.3,213.8 511.3,208" fill="#ebdd30" stroke="#1e1e1e" stroke-width="0.85"/>
<polygon points="469.6,237.2 475.6,243 469.6,248.8 463.6,243" fill="#ebdd30" stroke="#1e1e1e" stroke-width="0.85"/>
<polygon points="478,257.8 484,263.6 478,269.4 472,263.6" fill="#ebdd30" stroke="#1e1e1e" stroke-width="0.85"/>
<polygon points="459.4,263 465.4,268.8 459.4,274.6 453.4,268.8" fill="#ebdd30" stroke="#1e1e1e" stroke-width="0.85"/>
<polygon points="517.6,265 523.6,270.8 517.6,276.6 511.6,270.8" fill="#ebdd30" stroke="#1e1e1e" stroke-width="0.85"/>
<polygon points="541,226.8 547,232.6 541,238.4 535,232.6" fill="#ebdd30" stroke="#1e1e1e" stroke-width="0.85"/>
<polygon points="581,189.5 575.3,198.5 586.7,198.5" fill="#ebdd30" stroke="#1e1e1e" stroke-width="0.85" stroke-linejoin="miter"/>
<polygon points="552.4,193.4 546.7,202.4 558.1,202.4" fill="#ebdd30" stroke="#1e1e1e" stroke-width="0.85" stroke-linejoin="miter"/>
<polygon points="519.6,199.8 513.9,208.8 525.3,208.8" fill="#ebdd30" stroke="#1e1e1e" stroke-width="0.85" stroke-linejoin="miter"/>
<polygon points="508.6,214 502.9,223 514.3,223" fill="#ebdd30" stroke="#1e1e1e" stroke-width="0.85" stroke-linejoin="miter"/>
<polygon points="549.4,228 543.7,237 555.1,237" fill="#ebdd30" stroke="#1e1e1e" stroke-width="0.85" stroke-linejoin="miter"/>
<polygon points="497.8,262.5 492.1,271.5 503.5,271.5" fill="#ebdd30" stroke="#1e1e1e" stroke-width="0.85" stroke-linejoin="miter"/>
<circle cx="593.4" cy="168.6" r="4.65" fill="#f08c96" stroke="#1e1e1e" stroke-width="0.85"/>
<circle cx="581.6" cy="190.6" r="4.65" fill="#f08c96" stroke="#1e1e1e" stroke-width="0.85"/>
<circle cx="582.6" cy="201.4" r="4.65" fill="#f08c96" stroke="#1e1e1e" stroke-width="0.85"/>
<circle cx="572.4" cy="211.4" r="4.65" fill="#f08c96" stroke="#1e1e1e" stroke-width="0.85"/>
<circle cx="549" cy="214.4" r="4.65" fill="#f08c96" stroke="#1e1e1e" stroke-width="0.85"/>
<circle cx="562.4" cy="226.6" r="4.65" fill="#f08c96" stroke="#1e1e1e" stroke-width="0.85"/>
<rect x="601.6" y="5.6" width="81.6" height="37.4" fill="#fff" stroke="#d8d8d8" stroke-width="0.8"/>
<circle cx="614" cy="12.4" r="4.65" fill="#f08c96" stroke="#1e1e1e" stroke-width="0.85"/>
<polygon points="614.3,18.8 608.7,28.4 619.9,28.4" fill="#ebdd30" stroke="#1e1e1e" stroke-width="0.85" stroke-linejoin="miter"/>
<polygon points="614,31.4 620,37.2 614,43 608,37.2" fill="#ebdd30" stroke="#1e1e1e" stroke-width="0.85"/>
<text x="628.4" y="16" font-size="10.2" word-spacing="0.9" font-family="Liberation Serif" font-weight="bold" fill="#111">D-J(JCA L)</text>
<text x="628.4" y="28.5" font-size="10.2" word-spacing="0.9" font-family="Liberation Serif" font-weight="bold" fill="#111">D-J(JCA E)</text>
<text x="628.4" y="41" font-size="10.2" word-spacing="0.9" font-family="Liberation Serif" font-weight="bold" fill="#111">D-J(JCB E)</text>
<text x="631.5" y="292" font-size="46" font-family="Liberation Serif" font-weight="bold" fill="#000">a</text>
<polygon points="62.9,369 82.78,381 102.66,397 122.54,416 142.42,448 162.3,490 182.18,475 202.06,477 221.94,486 241.82,492 261.7,499 281.58,500 301.46,501 321.34,507.5 321.34,536 301.46,531 281.58,530 261.7,528 241.82,523 221.94,518 202.06,512 182.18,510 162.3,529 142.42,485 122.54,460 102.66,449 82.78,428 62.9,425" fill="#fbfce9" stroke="none"/>
<polygon points="62.9,382.6 82.78,390 102.66,404 122.54,422 142.42,455 162.3,497 182.18,482 202.06,484 221.94,492 241.82,497 261.7,503 281.58,504 301.46,505 321.34,511 321.34,536 301.46,531 281.58,530 261.7,528 241.82,523 221.94,518 202.06,512 182.18,510 162.3,529 142.42,485 122.54,460 102.66,449 82.78,428 62.9,425" fill="#f6f8da" stroke="none"/>
<polygon points="62.9,344.2 82.78,361.3 102.66,377.3 122.54,395 142.42,431.1 162.3,474 182.18,456 202.06,460.7 221.94,474.7 241.82,479.7 261.7,485.1 281.58,483.6 301.46,483.6 321.34,489.3 321.34,503.2 301.46,497.8 281.58,497.8 261.7,499.5 241.82,494.2 221.94,489.2 202.06,475.2 182.18,471 162.3,488.8 142.42,444.1 122.54,411 102.66,394.3 82.78,378.7 62.9,361.6" fill="#f9eaec" stroke="none"/>
<polyline points="62.9,394.2 82.78,403.3 102.66,427.3" fill="none" stroke="#222" stroke-width="1.15" stroke-dasharray="3.8 3.2"/>
<polyline points="62.9,401.9 82.78,407.5 102.66,426.7 122.54,441.8 142.42,467 162.3,509.2 182.18,490.6 202.06,491.3 221.94,502.4 241.82,509.2 261.7,515.5 281.58,515.6 301.46,515.6 321.34,520.6" fill="none" stroke="#222" stroke-width="1.15" stroke-dasharray="3.8 3.2"/>
<polyline points="62.9,352.9 82.78,370 102.66,385.8 122.54,403 142.42,437.6 162.3,480.3 182.18,463.5 202.06,468.2 221.94,482.2 241.82,487.7 261.7,493.3 281.58,491.8 301.46,491.8 321.34,497.4" fill="none" stroke="#222" stroke-width="1.15" stroke-dasharray="3.8 3.2"/>
<line x1="42.9" y1="322.5" x2="331.2" y2="322.5" stroke="#111" stroke-width="1.1"/>
<line x1="331.2" y1="322.5" x2="331.2" y2="554.2" stroke="#555" stroke-width="1.3"/>
<line x1="42.9" y1="322.0" x2="42.9" y2="554.2" stroke="#4a4a4a" stroke-width="1.5"/>
<line x1="42.9" y1="554.2" x2="331.2" y2="554.2" stroke="#333" stroke-width="1.4"/>
<line x1="39.9" y1="541.31" x2="42.9" y2="541.31" stroke="#333" stroke-width="1.1"/>
<text x="38.3" y="545.91" text-anchor="end" font-size="14" font-family="Liberation Serif" fill="#222">0.8</text>
<line x1="39.9" y1="515.5" x2="42.9" y2="515.5" stroke="#333" stroke-width="1.1"/>
<text x="38.3" y="520.1" text-anchor="end" font-size="14" font-family="Liberation Serif" fill="#222">1.0</text>
<line x1="39.9" y1="489.69" x2="42.9" y2="489.69" stroke="#333" stroke-width="1.1"/>
<text x="38.3" y="494.29" text-anchor="end" font-size="14" font-family="Liberation Serif" fill="#222">1.2</text>
<line x1="39.9" y1="463.87" x2="42.9" y2="463.87" stroke="#333" stroke-width="1.1"/>
<text x="38.3" y="468.47" text-anchor="end" font-size="14" font-family="Liberation Serif" fill="#222">1.4</text>
<line x1="39.9" y1="438.06" x2="42.9" y2="438.06" stroke="#333" stroke-width="1.1"/>
<text x="38.3" y="442.66" text-anchor="end" font-size="14" font-family="Liberation Serif" fill="#222">1.6</text>
<line x1="39.9" y1="412.24" x2="42.9" y2="412.24" stroke="#333" stroke-width="1.1"/>
<text x="38.3" y="416.84" text-anchor="end" font-size="14" font-family="Liberation Serif" fill="#222">1.8</text>
<line x1="39.9" y1="386.43" x2="42.9" y2="386.43" stroke="#333" stroke-width="1.1"/>
<text x="38.3" y="391.03" text-anchor="end" font-size="14" font-family="Liberation Serif" fill="#222">2.0</text>
<line x1="39.9" y1="360.61" x2="42.9" y2="360.61" stroke="#333" stroke-width="1.1"/>
<text x="38.3" y="365.21" text-anchor="end" font-size="14" font-family="Liberation Serif" fill="#222">2.2</text>
<line x1="39.9" y1="334.8" x2="42.9" y2="334.8" stroke="#333" stroke-width="1.1"/>
<text x="38.3" y="339.4" text-anchor="end" font-size="14" font-family="Liberation Serif" fill="#222">2.4</text>
<line x1="40.4" y1="554.22" x2="42.9" y2="554.22" stroke="#333" stroke-width="1"/>
<line x1="40.4" y1="528.41" x2="42.9" y2="528.41" stroke="#333" stroke-width="1"/>
<line x1="40.4" y1="502.59" x2="42.9" y2="502.59" stroke="#333" stroke-width="1"/>
<line x1="40.4" y1="476.78" x2="42.9" y2="476.78" stroke="#333" stroke-width="1"/>
<line x1="40.4" y1="450.96" x2="42.9" y2="450.96" stroke="#333" stroke-width="1"/>
<line x1="40.4" y1="425.15" x2="42.9" y2="425.15" stroke="#333" stroke-width="1"/>
<line x1="40.4" y1="399.34" x2="42.9" y2="399.34" stroke="#333" stroke-width="1"/>
<line x1="40.4" y1="373.52" x2="42.9" y2="373.52" stroke="#333" stroke-width="1"/>
<line x1="40.4" y1="347.71" x2="42.9" y2="347.71" stroke="#333" stroke-width="1"/>
<line x1="62.9" y1="554.2" x2="62.9" y2="557.2" stroke="#333" stroke-width="1.1"/>
<text x="62.9" y="570.2" text-anchor="middle" font-size="14" font-family="Liberation Serif" fill="#222">La</text>
<line x1="82.78" y1="554.2" x2="82.78" y2="557.2" stroke="#333" stroke-width="1.1"/>
<text x="82.78" y="570.2" text-anchor="middle" font-size="14" font-family="Liberation Serif" fill="#222">Ce</text>
<line x1="102.66" y1="554.2" x2="102.66" y2="557.2" stroke="#333" stroke-width="1.1"/>
<text x="102.66" y="570.2" text-anchor="middle" font-size="14" font-family="Liberation Serif" fill="#222">Pr</text>
<line x1="122.54" y1="554.2" x2="122.54" y2="557.2" stroke="#333" stroke-width="1.1"/>
<text x="122.54" y="570.2" text-anchor="middle" font-size="14" font-family="Liberation Serif" fill="#222">Nd</text>
<line x1="142.42" y1="554.2" x2="142.42" y2="557.2" stroke="#333" stroke-width="1.1"/>
<text x="142.42" y="570.2" text-anchor="middle" font-size="14" font-family="Liberation Serif" fill="#222">Sm</text>
<line x1="162.3" y1="554.2" x2="162.3" y2="557.2" stroke="#333" stroke-width="1.1"/>
<text x="162.3" y="570.2" text-anchor="middle" font-size="14" font-family="Liberation Serif" fill="#222">Eu</text>
<line x1="182.18" y1="554.2" x2="182.18" y2="557.2" stroke="#333" stroke-width="1.1"/>
<text x="182.18" y="570.2" text-anchor="middle" font-size="14" font-family="Liberation Serif" fill="#222">Gd</text>
<line x1="202.06" y1="554.2" x2="202.06" y2="557.2" stroke="#333" stroke-width="1.1"/>
<text x="202.06" y="570.2" text-anchor="middle" font-size="14" font-family="Liberation Serif" fill="#222">Tb</text>
<line x1="221.94" y1="554.2" x2="221.94" y2="557.2" stroke="#333" stroke-width="1.1"/>
<text x="221.94" y="570.2" text-anchor="middle" font-size="14" font-family="Liberation Serif" fill="#222">Dy</text>
<line x1="241.82" y1="554.2" x2="241.82" y2="557.2" stroke="#333" stroke-width="1.1"/>
<text x="241.82" y="570.2" text-anchor="middle" font-size="14" font-family="Liberation Serif" fill="#222">Ho</text>
<line x1="261.7" y1="554.2" x2="261.7" y2="557.2" stroke="#333" stroke-width="1.1"/>
<text x="261.7" y="570.2" text-anchor="middle" font-size="14" font-family="Liberation Serif" fill="#222">Er</text>
<line x1="281.58" y1="554.2" x2="281.58" y2="557.2" stroke="#333" stroke-width="1.1"/>
<text x="281.58" y="570.2" text-anchor="middle" font-size="14" font-family="Liberation Serif" fill="#222">Tm</text>
<line x1="301.46" y1="554.2" x2="301.46" y2="557.2" stroke="#333" stroke-width="1.1"/>
<text x="301.46" y="570.2" text-anchor="middle" font-size="14" font-family="Liberation Serif" fill="#222">Yb</text>
<line x1="321.34" y1="554.2" x2="321.34" y2="557.2" stroke="#333" stroke-width="1.1"/>
<text x="321.34" y="570.2" text-anchor="middle" font-size="14" font-family="Liberation Serif" fill="#222">Lu</text>
<polygon points="62.9,387.7 69.4,394.2 62.9,400.7 56.4,394.2" fill="#ebdd30" stroke="#1e1e1e" stroke-width="0.85"/>
<polygon points="82.78,396.8 89.28,403.3 82.78,409.8 76.28,403.3" fill="#ebdd30" stroke="#1e1e1e" stroke-width="0.85"/>
<polygon points="102.66,420.8 109.16,427.3 102.66,433.8 96.16,427.3" fill="#ebdd30" stroke="#1e1e1e" stroke-width="0.85"/>
<polygon points="122.54,437.3 129.04,443.8 122.54,450.3 116.04,443.8" fill="#ebdd30" stroke="#1e1e1e" stroke-width="0.85"/>
<polygon points="142.42,463.5 148.92,470 142.42,476.5 135.92,470" fill="#ebdd30" stroke="#1e1e1e" stroke-width="0.85"/>
<polygon points="162.3,503.5 168.8,510 162.3,516.5 155.8,510" fill="#ebdd30" stroke="#1e1e1e" stroke-width="0.85"/>
<polygon points="182.18,485.5 188.68,492 182.18,498.5 175.68,492" fill="#ebdd30" stroke="#1e1e1e" stroke-width="0.85"/>
<polygon points="202.06,487.5 208.56,494 202.06,500.5 195.56,494" fill="#ebdd30" stroke="#1e1e1e" stroke-width="0.85"/>
<polygon points="221.94,496.5 228.44,503 221.94,509.5 215.44,503" fill="#ebdd30" stroke="#1e1e1e" stroke-width="0.85"/>
<polygon points="241.82,503.5 248.32,510 241.82,516.5 235.32,510" fill="#ebdd30" stroke="#1e1e1e" stroke-width="0.85"/>
<polygon points="261.7,510.5 268.2,517 261.7,523.5 255.2,517" fill="#ebdd30" stroke="#1e1e1e" stroke-width="0.85"/>
<polygon points="281.58,508 288.08,514.5 281.58,521 275.08,514.5" fill="#ebdd30" stroke="#1e1e1e" stroke-width="0.85"/>
<polygon points="302.96,507.8 309.46,514.3 302.96,520.8 296.46,514.3" fill="#ebdd30" stroke="#1e1e1e" stroke-width="0.85"/>
<polygon points="321.34,513.2 327.84,519.7 321.34,526.2 314.84,519.7" fill="#ebdd30" stroke="#1e1e1e" stroke-width="0.85"/>
<polygon points="62.9,396.6 56.8,407.2 69,407.2" fill="#ebdd30" stroke="#1e1e1e" stroke-width="0.85" stroke-linejoin="miter"/>
<polygon points="82.78,402.2 76.68,412.8 88.88,412.8" fill="#ebdd30" stroke="#1e1e1e" stroke-width="0.85" stroke-linejoin="miter"/>
<polygon points="102.66,421.4 96.56,432 108.76,432" fill="#ebdd30" stroke="#1e1e1e" stroke-width="0.85" stroke-linejoin="miter"/>
<polygon points="122.54,436.5 116.44,447.1 128.64,447.1" fill="#ebdd30" stroke="#1e1e1e" stroke-width="0.85" stroke-linejoin="miter"/>
<polygon points="142.42,461.7 136.32,472.3 148.52,472.3" fill="#ebdd30" stroke="#1e1e1e" stroke-width="0.85" stroke-linejoin="miter"/>
<polygon points="162.3,503.9 156.2,514.5 168.4,514.5" fill="#ebdd30" stroke="#1e1e1e" stroke-width="0.85" stroke-linejoin="miter"/>
<polygon points="182.18,485.3 176.08,495.9 188.28,495.9" fill="#ebdd30" stroke="#1e1e1e" stroke-width="0.85" stroke-linejoin="miter"/>
<polygon points="202.06,486 195.96,496.6 208.16,496.6" fill="#ebdd30" stroke="#1e1e1e" stroke-width="0.85" stroke-linejoin="miter"/>
<polygon points="221.94,497.1 215.84,507.7 228.04,507.7" fill="#ebdd30" stroke="#1e1e1e" stroke-width="0.85" stroke-linejoin="miter"/>
<polygon points="241.82,503.9 235.72,514.5 247.92,514.5" fill="#ebdd30" stroke="#1e1e1e" stroke-width="0.85" stroke-linejoin="miter"/>
<polygon points="261.7,510.2 255.6,520.8 267.8,520.8" fill="#ebdd30" stroke="#1e1e1e" stroke-width="0.85" stroke-linejoin="miter"/>
<polygon points="281.58,510.3 275.48,520.9 287.68,520.9" fill="#ebdd30" stroke="#1e1e1e" stroke-width="0.85" stroke-linejoin="miter"/>
<polygon points="301.46,510.3 295.36,520.9 307.56,520.9" fill="#ebdd30" stroke="#1e1e1e" stroke-width="0.85" stroke-linejoin="miter"/>
<polygon points="321.34,515.3 315.24,525.9 327.44,525.9" fill="#ebdd30" stroke="#1e1e1e" stroke-width="0.85" stroke-linejoin="miter"/>
<circle cx="62.9" cy="352.9" r="4.9" fill="#f08c96" stroke="#1e1e1e" stroke-width="0.85"/>
<circle cx="82.78" cy="370" r="4.9" fill="#f08c96" stroke="#1e1e1e" stroke-width="0.85"/>
<circle cx="102.66" cy="385.8" r="4.9" fill="#f08c96" stroke="#1e1e1e" stroke-width="0.85"/>
<circle cx="122.54" cy="403" r="4.9" fill="#f08c96" stroke="#1e1e1e" stroke-width="0.85"/>
<circle cx="142.42" cy="437.6" r="4.9" fill="#f08c96" stroke="#1e1e1e" stroke-width="0.85"/>
<circle cx="162.3" cy="480.3" r="4.9" fill="#f08c96" stroke="#1e1e1e" stroke-width="0.85"/>
<circle cx="182.18" cy="463.5" r="4.9" fill="#f08c96" stroke="#1e1e1e" stroke-width="0.85"/>
<circle cx="202.06" cy="468.2" r="4.9" fill="#f08c96" stroke="#1e1e1e" stroke-width="0.85"/>
<circle cx="221.94" cy="482.2" r="4.9" fill="#f08c96" stroke="#1e1e1e" stroke-width="0.85"/>
<circle cx="241.82" cy="487.7" r="4.9" fill="#f08c96" stroke="#1e1e1e" stroke-width="0.85"/>
<circle cx="261.7" cy="493.3" r="4.9" fill="#f08c96" stroke="#1e1e1e" stroke-width="0.85"/>
<circle cx="281.58" cy="491.8" r="4.9" fill="#f08c96" stroke="#1e1e1e" stroke-width="0.85"/>
<circle cx="301.46" cy="491.8" r="4.9" fill="#f08c96" stroke="#1e1e1e" stroke-width="0.85"/>
<circle cx="321.34" cy="497.4" r="4.9" fill="#f08c96" stroke="#1e1e1e" stroke-width="0.85"/>
<text x="183.5" y="588" text-anchor="middle" font-size="15" font-family="Liberation Serif" font-weight="bold" stroke="#111" stroke-width="0.3" fill="#111">REE</text>
<text x="7.2" y="433" text-anchor="middle" font-size="16" font-family="Liberation Serif" font-weight="bold" stroke="#111" stroke-width="0.3" fill="#111" transform="rotate(-90 7.2 433)" dominant-baseline="central">Lg(Sample/Chondrite)</text>
<text x="57.5" y="528.5" font-size="46" font-family="Liberation Serif" font-weight="bold" fill="#000">b</text>
<line x1="388.5" y1="322.4" x2="671.1" y2="322.4" stroke="#111" stroke-width="1.1"/>
<line x1="671.1" y1="322.4" x2="671.1" y2="548.6" stroke="#555" stroke-width="1.3"/>
<line x1="388.5" y1="321.9" x2="388.5" y2="548.6" stroke="#4a4a4a" stroke-width="1.5"/>
<line x1="388.5" y1="548.6" x2="671.1" y2="548.6" stroke="#333" stroke-width="1.4"/>
<line x1="385.5" y1="536.2" x2="388.5" y2="536.2" stroke="#333" stroke-width="1.1"/>
<text x="383.7" y="540.8" text-anchor="end" font-size="14" font-family="Liberation Serif" fill="#222">60.0</text>
<line x1="385.5" y1="511.03" x2="388.5" y2="511.03" stroke="#333" stroke-width="1.1"/>
<text x="383.7" y="515.62" text-anchor="end" font-size="14" font-family="Liberation Serif" fill="#222">80.0</text>
<line x1="385.5" y1="485.85" x2="388.5" y2="485.85" stroke="#333" stroke-width="1.1"/>
<text x="383.7" y="490.45" text-anchor="end" font-size="14" font-family="Liberation Serif" fill="#222">100.0</text>
<line x1="385.5" y1="460.68" x2="388.5" y2="460.68" stroke="#333" stroke-width="1.1"/>
<text x="383.7" y="465.28" text-anchor="end" font-size="14" font-family="Liberation Serif" fill="#222">120.0</text>
<line x1="385.5" y1="435.5" x2="388.5" y2="435.5" stroke="#333" stroke-width="1.1"/>
<text x="383.7" y="440.1" text-anchor="end" font-size="14" font-family="Liberation Serif" fill="#222">140.0</text>
<line x1="385.5" y1="410.33" x2="388.5" y2="410.33" stroke="#333" stroke-width="1.1"/>
<text x="383.7" y="414.93" text-anchor="end" font-size="14" font-family="Liberation Serif" fill="#222">160.0</text>
<line x1="385.5" y1="385.15" x2="388.5" y2="385.15" stroke="#333" stroke-width="1.1"/>
<text x="383.7" y="389.75" text-anchor="end" font-size="14" font-family="Liberation Serif" fill="#222">180.0</text>
<line x1="385.5" y1="359.98" x2="388.5" y2="359.98" stroke="#333" stroke-width="1.1"/>
<text x="383.7" y="364.58" text-anchor="end" font-size="14" font-family="Liberation Serif" fill="#222">200.0</text>
<line x1="385.5" y1="334.8" x2="388.5" y2="334.8" stroke="#333" stroke-width="1.1"/>
<text x="383.7" y="339.4" text-anchor="end" font-size="14" font-family="Liberation Serif" fill="#222">220.0</text>
<line x1="386" y1="548.79" x2="388.5" y2="548.79" stroke="#333" stroke-width="1"/>
<line x1="386" y1="523.61" x2="388.5" y2="523.61" stroke="#333" stroke-width="1"/>
<line x1="386" y1="498.44" x2="388.5" y2="498.44" stroke="#333" stroke-width="1"/>
<line x1="386" y1="473.26" x2="388.5" y2="473.26" stroke="#333" stroke-width="1"/>
<line x1="386" y1="448.09" x2="388.5" y2="448.09" stroke="#333" stroke-width="1"/>
<line x1="386" y1="422.91" x2="388.5" y2="422.91" stroke="#333" stroke-width="1"/>
<line x1="386" y1="397.74" x2="388.5" y2="397.74" stroke="#333" stroke-width="1"/>
<line x1="386" y1="372.56" x2="388.5" y2="372.56" stroke="#333" stroke-width="1"/>
<line x1="386" y1="347.39" x2="388.5" y2="347.39" stroke="#333" stroke-width="1"/>
<line x1="386" y1="322.21" x2="388.5" y2="322.21" stroke="#333" stroke-width="1"/>
<line x1="410.4" y1="548.6" x2="410.4" y2="551.6" stroke="#333" stroke-width="1.1"/>
<text x="410.4" y="564.8" text-anchor="middle" font-size="14" font-family="Liberation Serif" fill="#222">8.0</text>
<line x1="453.8" y1="548.6" x2="453.8" y2="551.6" stroke="#333" stroke-width="1.1"/>
<text x="453.8" y="564.8" text-anchor="middle" font-size="14" font-family="Liberation Serif" fill="#222">10.0</text>
<line x1="497.2" y1="548.6" x2="497.2" y2="551.6" stroke="#333" stroke-width="1.1"/>
<text x="497.2" y="564.8" text-anchor="middle" font-size="14" font-family="Liberation Serif" fill="#222">12.0</text>
<line x1="540.6" y1="548.6" x2="540.6" y2="551.6" stroke="#333" stroke-width="1.1"/>
<text x="540.6" y="564.8" text-anchor="middle" font-size="14" font-family="Liberation Serif" fill="#222">14.0</text>
<line x1="584" y1="548.6" x2="584" y2="551.6" stroke="#333" stroke-width="1.1"/>
<text x="584" y="564.8" text-anchor="middle" font-size="14" font-family="Liberation Serif" fill="#222">16.0</text>
<line x1="627.4" y1="548.6" x2="627.4" y2="551.6" stroke="#333" stroke-width="1.1"/>
<text x="627.4" y="564.8" text-anchor="middle" font-size="14" font-family="Liberation Serif" fill="#222">18.0</text>
<line x1="670.8" y1="548.6" x2="670.8" y2="551.6" stroke="#333" stroke-width="1.1"/>
<text x="670.8" y="564.8" text-anchor="middle" font-size="14" font-family="Liberation Serif" fill="#222">20.0</text>
<line x1="388.7" y1="548.6" x2="388.7" y2="551.1" stroke="#333" stroke-width="1"/>
<line x1="432.1" y1="548.6" x2="432.1" y2="551.1" stroke="#333" stroke-width="1"/>
<line x1="475.5" y1="548.6" x2="475.5" y2="551.1" stroke="#333" stroke-width="1"/>
<line x1="518.9" y1="548.6" x2="518.9" y2="551.1" stroke="#333" stroke-width="1"/>
<line x1="562.3" y1="548.6" x2="562.3" y2="551.1" stroke="#333" stroke-width="1"/>
<line x1="605.7" y1="548.6" x2="605.7" y2="551.1" stroke="#333" stroke-width="1"/>
<line x1="649.1" y1="548.6" x2="649.1" y2="551.1" stroke="#333" stroke-width="1"/>
<polygon points="445.2,492.6 451.7,499.1 445.2,505.6 438.7,499.1" fill="#ebdd30" stroke="#1e1e1e" stroke-width="0.85"/>
<polygon points="447.8,490.8 454.3,497.3 447.8,503.8 441.3,497.3" fill="#ebdd30" stroke="#1e1e1e" stroke-width="0.85"/>
<polygon points="410.2,502.6 416.7,509.1 410.2,515.6 403.7,509.1" fill="#ebdd30" stroke="#1e1e1e" stroke-width="0.85"/>
<polygon points="481.7,524.7 488.2,531.2 481.7,537.7 475.2,531.2" fill="#ebdd30" stroke="#1e1e1e" stroke-width="0.85"/>
<polygon points="493.5,472.4 500,478.9 493.5,485.4 487,478.9" fill="#ebdd30" stroke="#1e1e1e" stroke-width="0.85"/>
<polygon points="558.4,388.3 564.9,394.8 558.4,401.3 551.9,394.8" fill="#ebdd30" stroke="#1e1e1e" stroke-width="0.85"/>
<polygon points="422.6,509.3 416.5,519.9 428.7,519.9" fill="#ebdd30" stroke="#1e1e1e" stroke-width="0.85" stroke-linejoin="miter"/>
<polygon points="434.4,509 428.3,519.6 440.5,519.6" fill="#ebdd30" stroke="#1e1e1e" stroke-width="0.85" stroke-linejoin="miter"/>
<polygon points="468.5,521.7 462.4,532.3 474.6,532.3" fill="#ebdd30" stroke="#1e1e1e" stroke-width="0.85" stroke-linejoin="miter"/>
<polygon points="531.6,449.7 525.5,460.3 537.7,460.3" fill="#ebdd30" stroke="#1e1e1e" stroke-width="0.85" stroke-linejoin="miter"/>
<polygon points="553.8,435 547.7,445.6 559.9,445.6" fill="#ebdd30" stroke="#1e1e1e" stroke-width="0.85" stroke-linejoin="miter"/>
<polygon points="634.4,375 628.3,385.6 640.5,385.6" fill="#ebdd30" stroke="#1e1e1e" stroke-width="0.85" stroke-linejoin="miter"/>
<circle cx="557.5" cy="404.3" r="4.9" fill="#f08c96" stroke="#1e1e1e" stroke-width="0.85"/>
<circle cx="601.3" cy="406.7" r="4.9" fill="#f08c96" stroke="#1e1e1e" stroke-width="0.85"/>
<circle cx="589" cy="345.3" r="4.9" fill="#f08c96" stroke="#1e1e1e" stroke-width="0.85"/>
<circle cx="594.9" cy="364.6" r="4.9" fill="#f08c96" stroke="#1e1e1e" stroke-width="0.85"/>
<circle cx="620.3" cy="329.2" r="4.9" fill="#f08c96" stroke="#1e1e1e" stroke-width="0.85"/>
<circle cx="652.7" cy="332.8" r="4.9" fill="#f08c96" stroke="#1e1e1e" stroke-width="0.85"/>
<text x="530.3" y="588.5" text-anchor="middle" font-size="15" font-family="Liberation Serif" font-weight="bold" stroke="#111" stroke-width="0.3" fill="#111">La/Yb</text>
<text x="342.7" y="438.5" text-anchor="middle" font-size="15.5" font-family="Liberation Serif" font-weight="bold" stroke="#111" stroke-width="0.3" fill="#111" transform="rotate(-90 342.7 438.5)" dominant-baseline="central">&#931;REE</text>
<text x="631.3" y="527.2" font-size="46" font-family="Liberation Serif" font-weight="bold" fill="#000">c</text>
</svg>
</body></html>
